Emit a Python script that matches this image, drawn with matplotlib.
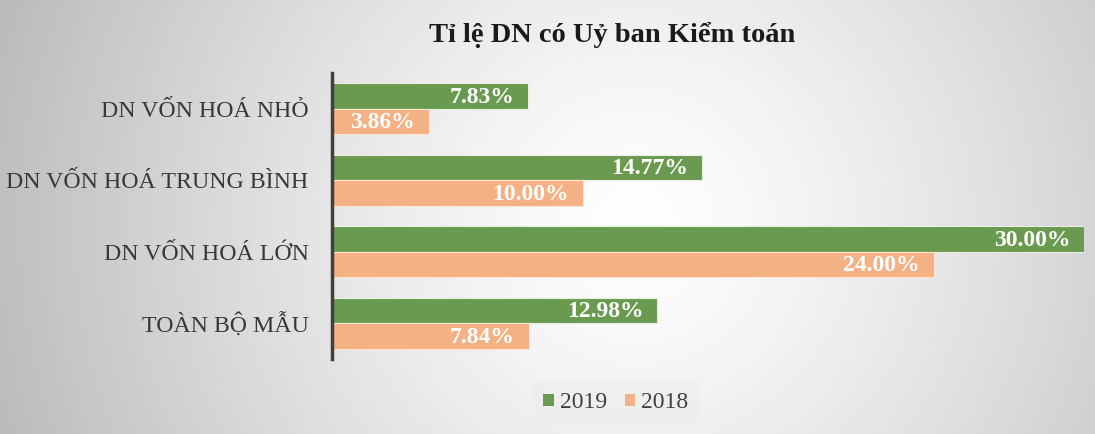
import numpy as np
import matplotlib
matplotlib.use("Agg")
import matplotlib.pyplot as plt

categories = ["DN VỐN HOÁ NHỎ", "DN VỐN HOÁ TRUNG BÌNH", "DN VỐN HOÁ LỚN", "TOÀN BỘ MẪU"]
values_2019 = [7.83, 14.77, 30.00, 12.98]
values_2018 = [3.86, 10.00, 24.00, 7.84]
series_names = ["2019", "2018"]
title = "Tỉ lệ DN có Uỷ ban Kiểm toán"

green = "#6A9A4F"
salmon = "#F4B183"
serif = ["Liberation Serif", "DejaVu Serif"]

W, H = 1095, 434
fig = plt.figure(figsize=(W / 100, H / 100), dpi=100)

# radial gradient background
bg = fig.add_axes([0, 0, 1, 1], zorder=-10)
yy, xx = np.mgrid[0:H, 0:W]
cx, cy = 0.58 * W, 0.52 * H
r = np.sqrt(((xx - cx) / (0.62 * W)) ** 2 + ((yy - cy) / (0.62 * W)) ** 2)
r = np.clip(r / r.max(), 0, 1)
val = 1.0 - 0.27 * r ** 1.3
img = np.dstack([val, val, val])
bg.imshow(img, aspect="auto", extent=[0, 1, 0, 1], origin="upper")
bg.set_axis_off()

ax = fig.add_axes([332 / W, 1 - 359 / H, (1084 - 332) / W, (359 - 73) / H])
ax.patch.set_alpha(0)

n = len(categories)
y = np.arange(n)
bh = 0.355
b1 = ax.barh(y - bh / 2, values_2019, height=bh, color=green, edgecolor="#E8EFE4", linewidth=0.8, label=series_names[0])
b2 = ax.barh(y + bh / 2, values_2018, height=bh, color=salmon, edgecolor="#FBE6D8", linewidth=0.8, label=series_names[1])

for bars, vals in ((b1, values_2019), (b2, values_2018)):
    for rect, v in zip(bars, vals):
        ax.text(rect.get_width() - 0.55, rect.get_y() + rect.get_height() / 2 + 0.02,
                f"{v:.2f}%", ha="right", va="center", color="white",
                fontsize=17, fontweight="bold", family=serif)

ax.set_xlim(0, 30)
ax.set_ylim(n - 0.5, -0.5)
ax.set_yticks(y)
ax.set_yticklabels(categories, family=serif, fontsize=17.2, color="#383838")
ax.tick_params(axis="y", length=0, pad=17)
ax.set_xticks([])
for s in ("top", "right", "bottom"):
    ax.spines[s].set_visible(False)
ax.spines["left"].set_color("#404040")
ax.spines["left"].set_linewidth(2.5)

fig.text(612 / W, 1 - 35 / H, title, ha="center", va="center", fontsize=20.5,
         fontweight="bold", family=serif, color="#1a1a1a")

leg = fig.legend(handles=[b1, b2], labels=series_names, loc="center",
                 bbox_to_anchor=(616 / W, 1 - 403 / H), ncol=2, frameon=True,
                 prop={"family": serif, "size": 17}, handlelength=0.45, handleheight=0.45,
                 columnspacing=0.75, handletextpad=0.25, borderpad=0.5)
leg.get_frame().set_facecolor("#EDEDED")
leg.get_frame().set_edgecolor("none")
leg.get_frame().set_alpha(0.6)
for t in leg.get_texts():
    t.set_color("#404040")
for h in leg.legend_handles:
    h.set_edgecolor("none")

fig.savefig("out.png", dpi=100)
